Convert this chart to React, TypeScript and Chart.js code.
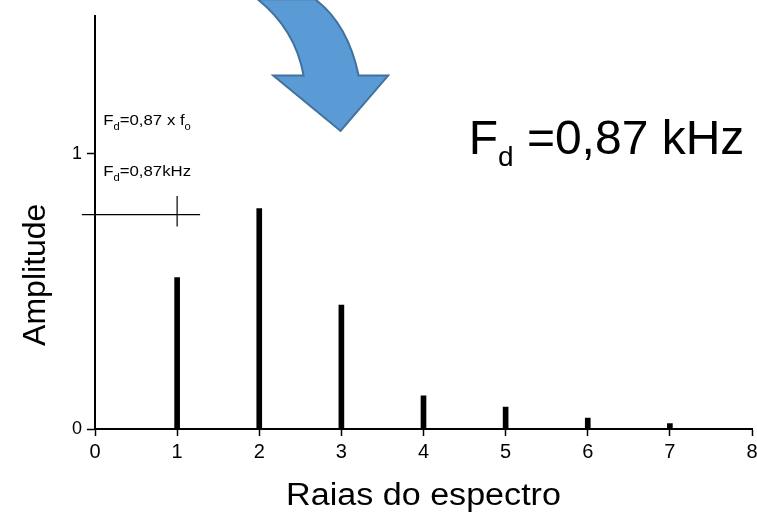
import React, { useEffect, useRef } from "react";
import { Chart, registerables } from "chart.js";

Chart.register(...registerables);

// ---- data ----
const harmonics = [1, 2, 3, 4, 5, 6, 7];
const amplitudes = [0.55, 0.8, 0.45, 0.12, 0.08, 0.04, 0.02];
const xTickValues = [0, 1, 2, 3, 4, 5, 6, 7, 8];
const yTickValues = [0, 1];
const xTitle = "Raias do espectro";
const yTitle = "Amplitude";
const bigLabel = ["F", "d", " =0,87 kHz"];
const smallLabel1 = ["F", "d", "=0,87 x f", "o"];
const smallLabel2 = ["F", "d", "=0,87kHz"];
// crosshair marker in data units: centre and extents
const markerX = 1;
const markerY = 0.778;
const markerXFrom = -0.16;
const markerXTo = 1.28;
const markerYFrom = 0.735;
const markerYTo = 0.846;

const FONT = "'Liberation Sans', Arial, sans-serif";

type Part = { t: string; size: number; dy: number };

function drawParts(ctx: CanvasRenderingContext2D, x: number, y: number, parts: Part[], sx = 1) {
  ctx.save();
  ctx.translate(x, y);
  ctx.scale(sx, 1);
  ctx.fillStyle = "#000";
  ctx.textBaseline = "alphabetic";
  ctx.textAlign = "left";
  let cx = 0;
  for (const p of parts) {
    ctx.font = `${p.size}px ${FONT}`;
    ctx.fillText(p.t, cx, p.dy);
    cx += ctx.measureText(p.t).width;
  }
  ctx.restore();
}

const annotationPlugin = {
  id: "annotations",
  afterDraw(chart: any) {
    const ctx: CanvasRenderingContext2D = chart.ctx;
    const xs = chart.scales.x;
    const ys = chart.scales.y;
    const px = (v: number) => xs.getPixelForValue(v);
    const py = (v: number) => ys.getPixelForValue(v);
    const area = chart.chartArea;

    // Crosshair marker
    ctx.save();
    ctx.strokeStyle = "#000";
    ctx.lineWidth = 1.2;
    ctx.beginPath();
    ctx.moveTo(px(markerXFrom), py(markerY));
    ctx.lineTo(px(markerXTo), py(markerY));
    ctx.moveTo(px(markerX), py(markerYFrom));
    ctx.lineTo(px(markerX), py(markerYTo));
    ctx.stroke();
    ctx.restore();

    // Curved block arrow
    const P = (x: number, y: number) => [px(x), py(y)];
    ctx.save();
    ctx.beginPath();
    const a0 = P(1.98, 1.56);
    const a1c = P(2.44, 1.45);
    const a1 = P(2.54, 1.283);
    const w1 = P(2.17, 1.283);
    const tip = P(2.99, 1.082);
    const w2 = P(3.57, 1.283);
    const b1 = P(3.21, 1.283);
    const b1c = P(3.08, 1.47);
    const b0 = P(2.68, 1.56);
    ctx.moveTo(a0[0], a0[1]);
    ctx.quadraticCurveTo(a1c[0], a1c[1], a1[0], a1[1]);
    ctx.lineTo(w1[0], w1[1]);
    ctx.lineTo(tip[0], tip[1]);
    ctx.lineTo(w2[0], w2[1]);
    ctx.lineTo(b1[0], b1[1]);
    ctx.quadraticCurveTo(b1c[0], b1c[1], b0[0], b0[1]);
    ctx.closePath();
    ctx.fillStyle = "#5B9BD5";
    ctx.fill();
    ctx.strokeStyle = "#41719C";
    ctx.lineWidth = 2;
    ctx.lineJoin = "miter";
    ctx.stroke();
    ctx.restore();

    // Big label
    drawParts(ctx, px(4.55), py(1.0), [
      { t: bigLabel[0], size: 48, dy: 0 },
      { t: bigLabel[1], size: 28, dy: 12 },
      { t: bigLabel[2], size: 48, dy: 0 },
    ]);

    // Small labels
    drawParts(
      ctx,
      px(0.1),
      py(1.104),
      [
        { t: smallLabel1[0], size: 15, dy: 0 },
        { t: smallLabel1[1], size: 10, dy: 5 },
        { t: smallLabel1[2], size: 15, dy: 0 },
        { t: smallLabel1[3], size: 10, dy: 5 },
      ],
      1.12
    );
    drawParts(
      ctx,
      px(0.1),
      py(0.918),
      [
        { t: smallLabel2[0], size: 15, dy: 0 },
        { t: smallLabel2[1], size: 10, dy: 5 },
        { t: smallLabel2[2], size: 15, dy: 0 },
      ],
      1.12
    );

    // Y axis title (rotated), placed lower than centre as in the source
    ctx.save();
    ctx.font = `32px ${FONT}`;
    ctx.fillStyle = "#000";
    ctx.textAlign = "center";
    ctx.textBaseline = "middle";
    ctx.translate(36, py(0.56));
    ctx.rotate(-Math.PI / 2);
    ctx.fillText(yTitle, 0, 0);
    ctx.restore();

    // X axis title
    ctx.save();
    ctx.font = `31px ${FONT}`;
    ctx.fillStyle = "#000";
    ctx.textAlign = "center";
    ctx.textBaseline = "alphabetic";
    const cx = (area.left + area.right) / 2;
    ctx.translate(cx, 505);
    ctx.scale(1.1, 1);
    ctx.fillText(xTitle, 0, 0);
    ctx.restore();
  },
};

export default function App() {
  const canvasRef = useRef<HTMLCanvasElement | null>(null);

  useEffect(() => {
    if (!canvasRef.current) return;
    const chart = new Chart(canvasRef.current, {
      type: "bar",
      data: {
        datasets: [
          {
            data: harmonics.map((h, i) => ({ x: h, y: amplitudes[i] })),
            backgroundColor: "#000",
            borderWidth: 0,
            barThickness: 5,
          },
        ],
      },
      options: {
        animation: false,
        responsive: false,
        maintainAspectRatio: false,
        layout: { padding: { left: 0, top: 10, right: 5, bottom: 0 } },
        plugins: {
          legend: { display: false },
          tooltip: { enabled: false },
          title: { display: false },
        },
        scales: {
          x: {
            type: "linear",
            min: 0,
            max: 8,
            offset: false,
            afterBuildTicks: (s: any) => {
              s.ticks = xTickValues.map((v) => ({ value: v }));
            },
            afterFit: (s: any) => {
              s.height = 86;
              s.paddingRight = 0;
              s.paddingLeft = 0;
            },
            ticks: {
              color: "#000",
              font: { family: FONT, size: 20 },
              padding: 4,
              maxRotation: 0,
              autoSkip: false,
            },
            grid: {
              display: true,
              offset: false,
              drawOnChartArea: false,
              drawTicks: true,
              tickLength: 7,
              tickColor: "#000",
              tickWidth: 1.5,
            },
            border: { display: true, color: "#000", width: 2 },
          },
          y: {
            type: "linear",
            min: 0,
            max: 1.5,
            afterBuildTicks: (s: any) => {
              s.ticks = yTickValues.map((v) => ({ value: v }));
            },
            afterFit: (s: any) => {
              s.width = 95;
            },
            ticks: {
              color: "#000",
              font: { family: FONT, size: 18 },
              padding: 5,
            },
            grid: {
              display: true,
              drawOnChartArea: false,
              drawTicks: true,
              tickLength: 8,
              tickColor: "#000",
              tickWidth: 1.5,
            },
            border: { display: true, color: "#000", width: 2 },
          },
        },
      } as any,
      plugins: [annotationPlugin],
    });
    return () => chart.destroy();
  }, []);

  return (
    <div style={{ position: "fixed", left: 0, top: 0, width: 757, height: 515, background: "#fff" }}>
      <canvas ref={canvasRef} width={757} height={515} style={{ width: 757, height: 515, display: "block" }} />
    </div>
  );
}
